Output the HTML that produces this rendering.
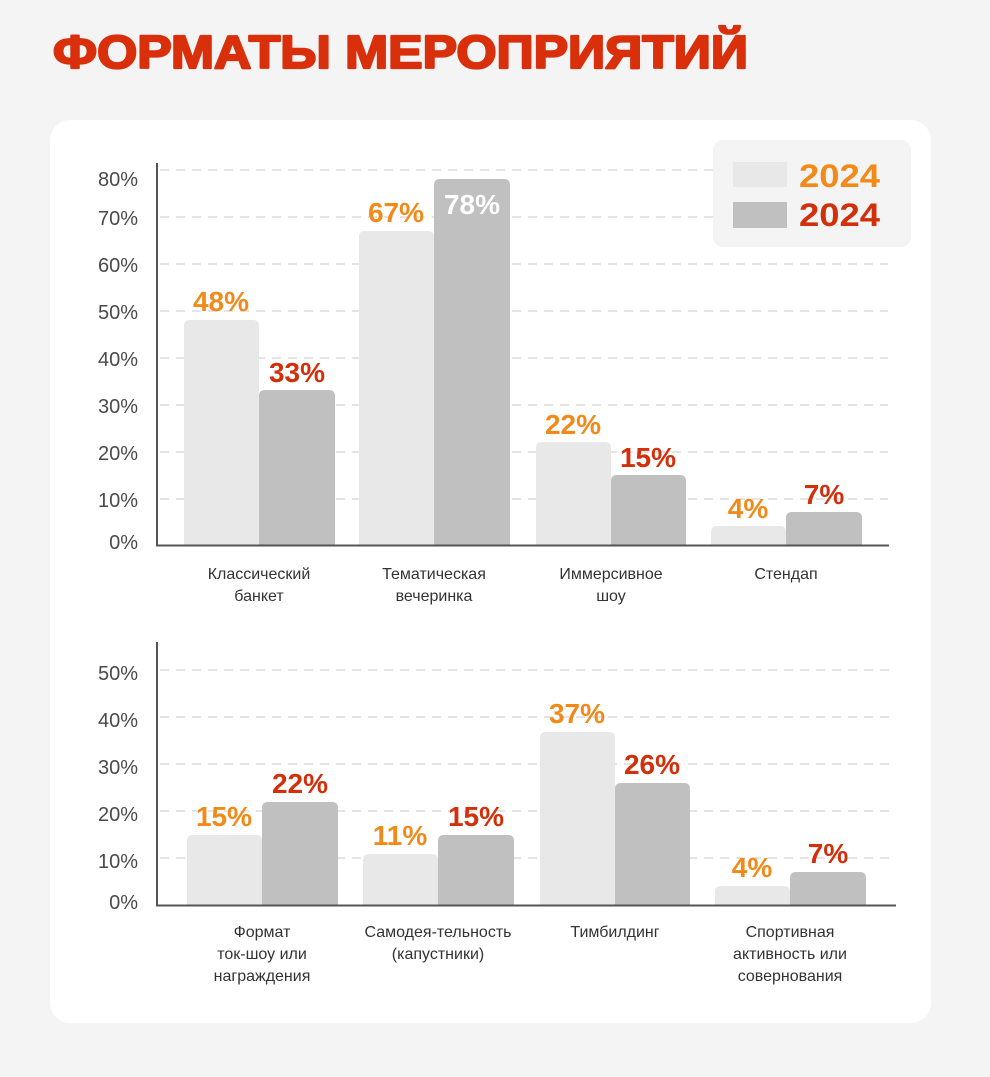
<!DOCTYPE html>
<html><head><meta charset="utf-8"><style>
html,body{margin:0;padding:0;background:#f4f4f4}
svg{display:block;font-family:"Liberation Sans",sans-serif}
.yl{font-size:20px;fill:#4a4a4a;text-anchor:end}
.g{stroke:#dcdcdc;stroke-width:1.5;stroke-dasharray:9 7}
.o{font-size:28px;font-weight:bold;fill:#f28a1a;text-anchor:middle}
.r{font-size:28px;font-weight:bold;fill:#d22f0b;text-anchor:middle}
.c{font-size:16px;fill:#333;text-anchor:middle}
.a{fill:#e8e8e8}.b{fill:#c0c0c0}
</style></head><body>
<svg width="990" height="1077" viewBox="0 0 990 1077">
<rect width="990" height="1077" fill="#f4f4f4"/>
<text x="53" y="68" font-size="46" font-weight="bold" fill="#d92f0b" stroke="#d92f0b" stroke-width="2.2" stroke-linejoin="round" textLength="695" lengthAdjust="spacingAndGlyphs">ФОРМАТЫ МЕРОПРИЯТИЙ</text>
<rect x="50" y="120" width="881" height="903" rx="20" fill="#fff"/>

<g class="g">
<line x1="160" y1="170" x2="888" y2="170"/><line x1="160" y1="217" x2="888" y2="217"/>
<line x1="160" y1="264" x2="888" y2="264"/><line x1="160" y1="311" x2="888" y2="311"/>
<line x1="160" y1="358" x2="888" y2="358"/><line x1="160" y1="405" x2="888" y2="405"/>
<line x1="160" y1="452" x2="888" y2="452"/><line x1="160" y1="499" x2="888" y2="499"/>
</g>
<g class="yl">
<text x="138" y="186">80%</text><text x="138" y="225">70%</text><text x="138" y="272">60%</text>
<text x="138" y="319">50%</text><text x="138" y="366">40%</text><text x="138" y="413">30%</text>
<text x="138" y="460">20%</text><text x="138" y="507">10%</text><text x="138" y="549">0%</text>
</g>
<rect x="713" y="140" width="198" height="107" rx="10" fill="#f4f4f4"/>
<rect x="733" y="162" width="54" height="25" fill="#e8e8e8"/>
<rect x="733" y="202" width="54" height="26" fill="#c0c0c0"/>
<text x="799" y="187" font-size="32" font-weight="bold" fill="#f28a1a" textLength="81" lengthAdjust="spacingAndGlyphs">2024</text>
<text x="799" y="226" font-size="32" font-weight="bold" fill="#d22f0b" textLength="81" lengthAdjust="spacingAndGlyphs">2024</text>

<path class="a" d="M184,545V326Q184,320 190,320H253Q259,320 259,326V545Z"/>
<path class="b" d="M259,545V396Q259,390 265,390H329Q335,390 335,396V545Z"/>
<path class="a" d="M359,545V237Q359,231 365,231H428Q434,231 434,237V545Z"/>
<path class="b" d="M434,545V185Q434,179 440,179H504Q510,179 510,185V545Z"/>
<path class="a" d="M536,545V448Q536,442 542,442H605Q611,442 611,448V545Z"/>
<path class="b" d="M611,545V481Q611,475 617,475H680Q686,475 686,481V545Z"/>
<path class="a" d="M711,545V532Q711,526 717,526H780Q786,526 786,532V545Z"/>
<path class="b" d="M786,545V518Q786,512 792,512H856Q862,512 862,518V545Z"/>
<line x1="157" y1="163" x2="157" y2="546" stroke="#555" stroke-width="2"/>
<line x1="156" y1="545.5" x2="889" y2="545.5" stroke="#555" stroke-width="2"/>
<text class="o" x="221" y="311">48%</text><text class="r" x="297" y="382">33%</text>
<text class="o" x="396" y="222">67%</text><text x="472" y="214" font-size="28" font-weight="bold" fill="#fff" text-anchor="middle">78%</text>
<text class="o" x="573" y="434">22%</text><text class="r" x="648" y="467">15%</text>
<text class="o" x="748" y="518">4%</text><text class="r" x="824" y="504">7%</text>
<g class="c">
<text x="259" y="579">Классический</text><text x="259" y="601">банкет</text>
<text x="434" y="579">Тематическая</text><text x="434" y="601">вечеринка</text>
<text x="611" y="579">Иммерсивное</text><text x="611" y="601">шоу</text>
<text x="786" y="579">Стендап</text>
</g>

<g class="g">
<line x1="160" y1="670" x2="895" y2="670"/><line x1="160" y1="717" x2="895" y2="717"/>
<line x1="160" y1="764" x2="895" y2="764"/><line x1="160" y1="811" x2="895" y2="811"/>
<line x1="160" y1="858" x2="895" y2="858"/>
</g>
<g class="yl">
<text x="138" y="680">50%</text><text x="138" y="727">40%</text><text x="138" y="774">30%</text>
<text x="138" y="821">20%</text><text x="138" y="868">10%</text><text x="138" y="909">0%</text>
</g>
<path class="a" d="M187,905V841Q187,835 193,835H256Q262,835 262,841V905Z"/>
<path class="b" d="M262,905V808Q262,802 268,802H332Q338,802 338,808V905Z"/>
<path class="a" d="M363,905V860Q363,854 369,854H432Q438,854 438,860V905Z"/>
<path class="b" d="M438,905V841Q438,835 444,835H508Q514,835 514,841V905Z"/>
<path class="a" d="M540,905V738Q540,732 546,732H609Q615,732 615,738V905Z"/>
<path class="b" d="M615,905V789Q615,783 621,783H684Q690,783 690,789V905Z"/>
<path class="a" d="M715,905V892Q715,886 721,886H784Q790,886 790,892V905Z"/>
<path class="b" d="M790,905V878Q790,872 796,872H860Q866,872 866,878V905Z"/>
<line x1="157" y1="642" x2="157" y2="906" stroke="#555" stroke-width="2"/>
<line x1="156" y1="905.5" x2="896" y2="905.5" stroke="#555" stroke-width="2"/>
<text class="o" x="224" y="826">15%</text><text class="r" x="300" y="793">22%</text>
<text class="o" x="400" y="845">11%</text><text class="r" x="476" y="826">15%</text>
<text class="o" x="577" y="723">37%</text><text class="r" x="652" y="774">26%</text>
<text class="o" x="752" y="877">4%</text><text class="r" x="828" y="863">7%</text>
<g class="c">
<text x="262" y="937">Формат</text><text x="262" y="959">ток-шоу или</text><text x="262" y="981">награждения</text>
<text x="438" y="937">Самодея-тельность</text><text x="438" y="959">(капустники)</text>
<text x="615" y="937">Тимбилдинг</text>
<text x="790" y="937">Спортивная</text><text x="790" y="959">активность или</text><text x="790" y="981">совернования</text>
</g>
</svg>
</body></html>
